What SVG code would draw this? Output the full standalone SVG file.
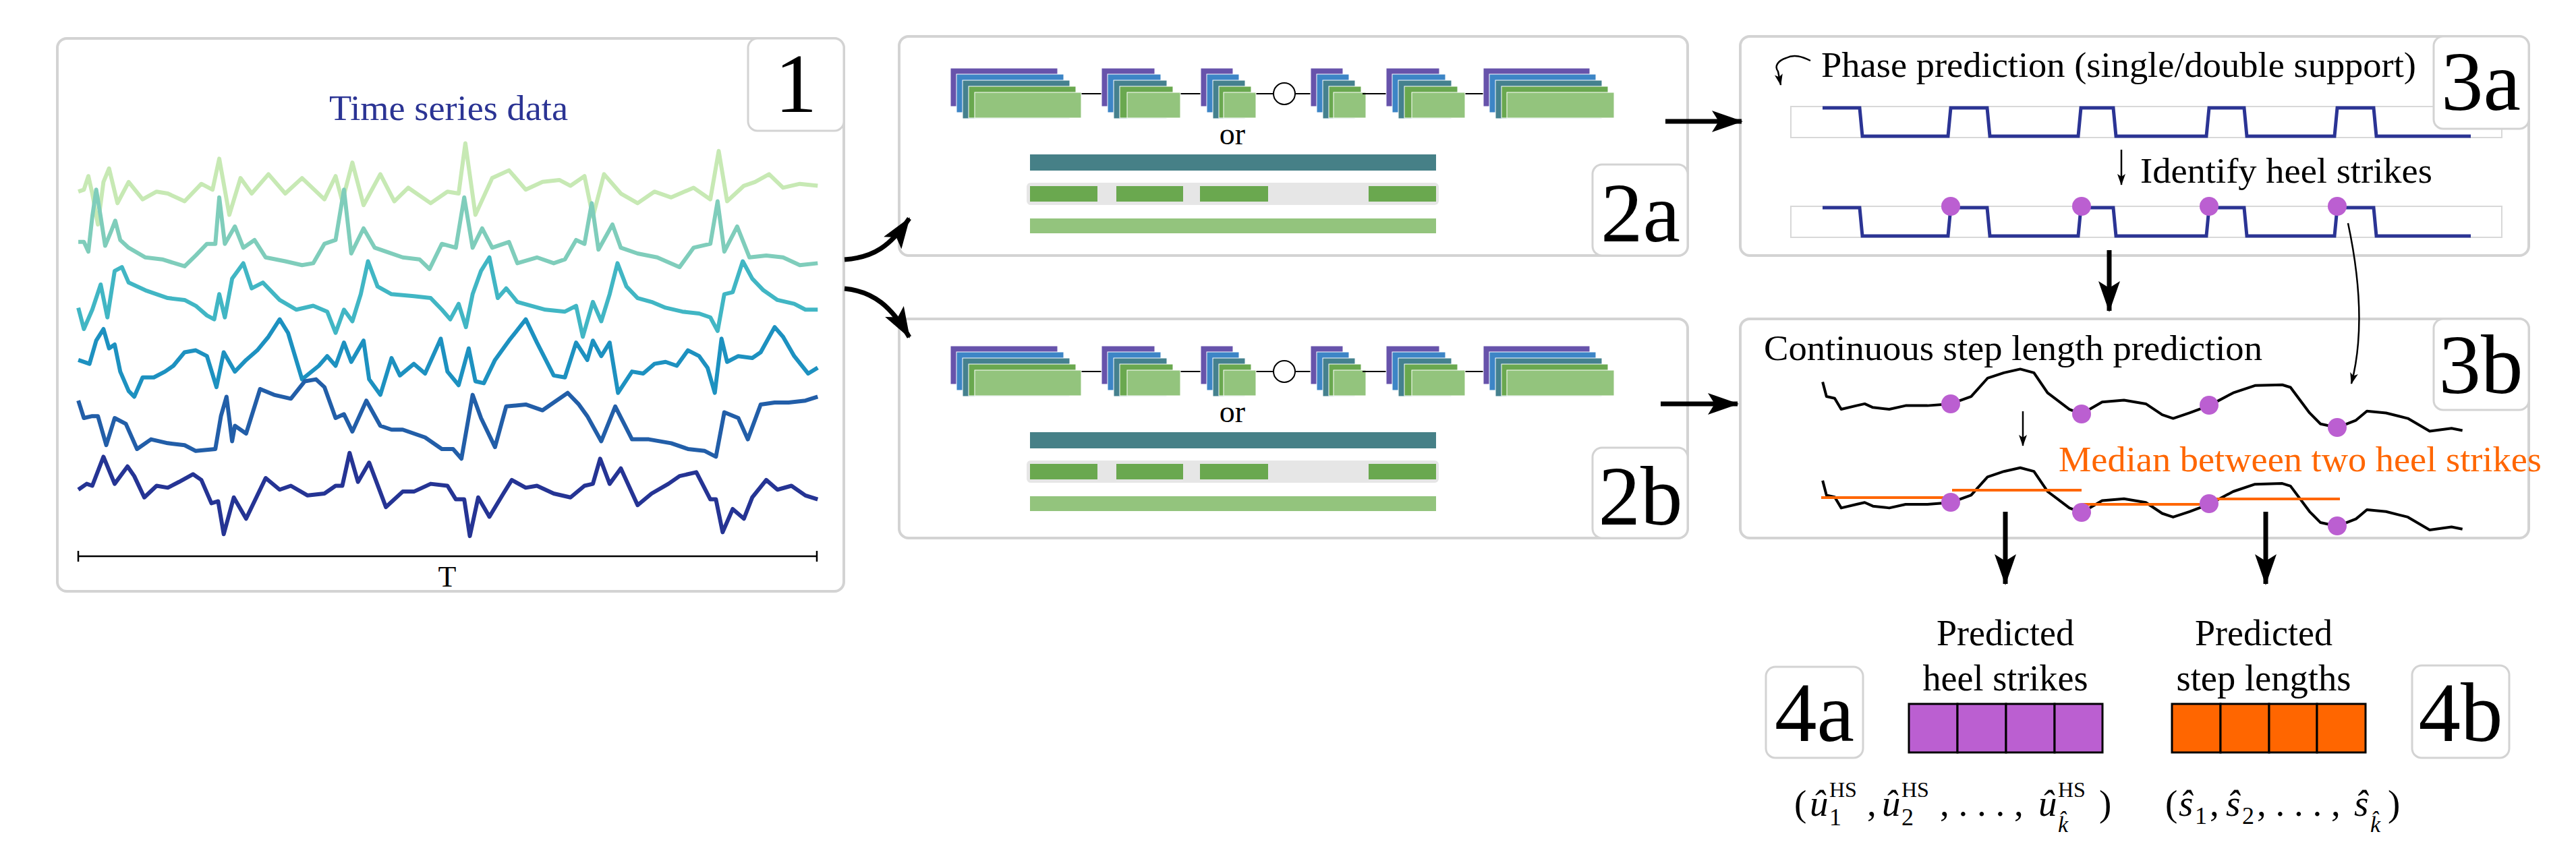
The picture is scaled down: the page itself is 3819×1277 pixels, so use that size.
<svg xmlns="http://www.w3.org/2000/svg" width="3819" height="1277" viewBox="0 0 3819 1277" font-family="'Liberation Serif', 'DejaVu Serif', serif">
<style>
.box{fill:#fff;stroke:#d3d3d3;stroke-width:4}
.lbl{fill:#fff;stroke:#d3d3d3;stroke-width:3}
.num{font-family:'Liberation Serif','DejaVu Serif',serif;font-size:125px;fill:#000;text-anchor:middle}
.t{font-family:'Liberation Serif','DejaVu Serif',serif;fill:#000}
.tr{fill:none;stroke-width:6;stroke-linejoin:round;vector-effect:non-scaling-stroke}
.sq{fill:none;stroke:#2b3494;stroke-width:5}
.sig{fill:#fff;stroke:#d8d8d8;stroke-width:2}
.dot{fill:#bb5fd1}
.blk{fill:none;stroke:#000;stroke-width:4;stroke-linejoin:round;vector-effect:non-scaling-stroke}
.med{stroke:#ff6600;stroke-width:4}
.thick{fill:none;stroke:#000;stroke-width:7}
.thin{fill:none;stroke:#000;stroke-width:2.5}
.p{stroke:#fff;stroke-width:1}
</style>
<defs>
<marker id="ah" markerUnits="userSpaceOnUse" markerWidth="60" markerHeight="40" refX="44" refY="16" orient="auto">
<path d="M0,0 L46,16 L0,32 L10,16 z" fill="#000"/>
</marker>
<marker id="ahs" markerUnits="userSpaceOnUse" markerWidth="20" markerHeight="20" refX="16" refY="6" orient="auto">
<path d="M0,0 L17,6 L0,12 L4,6 z" fill="#000"/>
</marker>
<g id="stacks">
<line x1="1600" y1="139" x2="2010" y2="139" stroke="#000" stroke-width="2"/>
<g class="p">
<rect x="1409" y="101" width="159" height="57" fill="#6753ab"/><rect x="1418" y="110" width="159" height="57" fill="#3d85c6"/><rect x="1427" y="119" width="159" height="57" fill="#45818e"/><rect x="1436" y="128" width="159" height="47" fill="#6aa84f"/><rect x="1445" y="137" width="158" height="38" fill="#93c47d"/>
<rect x="1633" y="101" width="79" height="57" fill="#6753ab"/><rect x="1642" y="110" width="79" height="57" fill="#3d85c6"/><rect x="1651" y="119" width="79" height="57" fill="#45818e"/><rect x="1660" y="128" width="79" height="47" fill="#6aa84f"/><rect x="1671" y="137" width="79" height="38" fill="#93c47d"/>
<rect x="1780" y="101" width="48" height="57" fill="#6753ab"/><rect x="1789" y="110" width="48" height="57" fill="#3d85c6"/><rect x="1798" y="119" width="48" height="57" fill="#45818e"/><rect x="1807" y="128" width="48" height="47" fill="#6aa84f"/><rect x="1814" y="137" width="48" height="38" fill="#93c47d"/>
<rect x="1943" y="101" width="48" height="57" fill="#6753ab"/><rect x="1952" y="110" width="48" height="57" fill="#3d85c6"/><rect x="1961" y="119" width="48" height="57" fill="#45818e"/><rect x="1970" y="128" width="48" height="47" fill="#6aa84f"/><rect x="1977" y="137" width="48" height="38" fill="#93c47d"/>
<line x1="2020" y1="139" x2="2200" y2="139" stroke="#000" stroke-width="2"/>
<rect x="2055" y="101" width="79" height="57" fill="#6753ab"/><rect x="2064" y="110" width="79" height="57" fill="#3d85c6"/><rect x="2073" y="119" width="79" height="57" fill="#45818e"/><rect x="2082" y="128" width="79" height="47" fill="#6aa84f"/><rect x="2093" y="137" width="79" height="38" fill="#93c47d"/>
<rect x="2199" y="101" width="158" height="57" fill="#6753ab"/><rect x="2208" y="110" width="158" height="57" fill="#3d85c6"/><rect x="2217" y="119" width="158" height="57" fill="#45818e"/><rect x="2226" y="128" width="158" height="47" fill="#6aa84f"/><rect x="2234" y="137" width="159" height="38" fill="#93c47d"/>
</g>
<circle cx="1904" cy="139" r="16" fill="#fff" stroke="#000" stroke-width="2"/>
<text x="1827" y="214" class="t" font-size="46" text-anchor="middle">or</text>
<rect x="1527" y="229" width="602" height="24" fill="#468087"/>
<rect x="1522" y="271" width="611" height="33" rx="6" fill="#e6e6e6"/>
<rect x="1527" y="276" width="100" height="23" fill="#6aa84f"/><rect x="1655" y="276" width="99" height="23" fill="#6aa84f"/><rect x="1779" y="276" width="101" height="23" fill="#6aa84f"/><rect x="2029" y="276" width="100" height="23" fill="#6aa84f"/>
<rect x="1527" y="324" width="602" height="22" fill="#93c47d"/>
</g>
</defs>

<g id="node1">
<rect class="box" x="85" y="57" width="1166" height="820" rx="14"/>
<rect class="lbl" x="1109" y="57" width="142" height="137" rx="14"/>
<text class="num" x="1180" y="166">1</text>
<text class="t" x="665" y="178" font-size="52" style="fill:#2b3494" text-anchor="middle" textLength="354" lengthAdjust="spacingAndGlyphs">Time series data</text>
<g transform="scale(0.8292,0.5741)">
<polyline class="tr" stroke="#c7e9b4" points="140,495 150,490 158,455 165,500 175,580 185,470 195,435 210,525 230,470 255,515 280,495 300,500 330,520 360,475 380,490 392,410 410,555 430,460 450,500 480,450 510,500 540,460 580,515 600,455 612,520 630,420 650,530 680,450 705,520 730,485 770,525 800,495 820,500 832,370 850,555 880,460 910,440 940,490 970,470 1000,465 1020,480 1045,455 1060,560 1080,450 1110,500 1140,525 1170,495 1200,510 1240,485 1270,515 1285,390 1300,520 1330,480 1350,470 1375,450 1400,485 1430,475 1462,480"/>
<polyline class="tr" stroke="#7fcdbb" points="140,625 150,625 158,650 165,560 172,490 180,560 188,635 198,600 206,570 215,620 230,640 260,665 290,670 330,688 350,660 370,630 385,630 392,510 402,630 420,585 435,640 455,620 475,665 510,675 540,685 560,680 580,630 600,620 615,490 628,655 650,590 670,640 690,650 720,665 750,670 768,695 790,630 815,640 830,510 845,640 862,590 880,640 910,625 925,680 960,665 990,680 1010,670 1030,620 1045,630 1058,525 1070,645 1095,580 1110,640 1140,655 1175,665 1215,690 1240,640 1270,630 1283,520 1295,650 1318,585 1340,665 1370,660 1400,665 1430,685 1462,680"/>
<polyline class="tr" stroke="#41b6c4" points="140,795 150,850 165,800 180,735 192,820 205,700 218,690 230,730 260,750 300,770 330,775 350,790 370,815 383,825 392,760 402,820 415,720 435,680 450,745 470,730 500,775 530,800 560,790 585,805 600,860 615,800 630,830 645,760 658,675 675,740 700,760 740,765 770,770 790,800 805,825 820,785 833,845 845,760 860,700 875,665 890,770 905,745 925,780 950,790 975,800 1010,805 1030,790 1042,870 1060,780 1075,830 1090,760 1104,680 1120,740 1140,770 1165,780 1190,795 1220,805 1250,810 1270,820 1283,855 1295,760 1310,755 1328,675 1345,720 1365,750 1390,775 1420,785 1440,800 1462,800"/>
<polyline class="tr" stroke="#1d91c0" points="140,930 160,940 172,880 185,850 195,900 205,890 215,960 230,1010 240,1025 255,975 275,975 295,960 310,945 330,910 350,905 370,920 387,1000 400,910 420,960 440,930 460,905 480,870 500,825 515,860 540,980 570,945 585,920 600,945 615,885 628,935 650,880 660,980 680,1020 700,925 715,970 740,940 760,965 788,875 800,960 820,995 838,900 850,985 865,990 885,930 910,880 940,825 960,885 990,970 1010,975 1030,885 1050,930 1060,880 1075,920 1090,885 1105,1015 1130,960 1150,965 1170,940 1190,935 1210,945 1230,905 1250,920 1265,950 1278,1015 1290,875 1300,935 1320,920 1345,925 1360,910 1385,845 1400,870 1420,920 1445,965 1462,950"/>
<polyline class="tr" stroke="#225ea8" points="140,1035 150,1080 165,1075 175,1075 190,1150 205,1080 225,1095 245,1160 270,1135 300,1145 330,1150 350,1165 385,1160 395,1075 405,1025 415,1140 420,1100 440,1120 465,1005 490,1020 520,1030 545,985 565,980 580,1000 600,1080 615,1070 630,1115 655,1035 680,1100 700,1110 720,1110 760,1130 790,1160 810,1160 825,1185 845,1020 860,1080 885,1155 905,1050 940,1045 970,1060 990,1040 1015,1015 1035,1045 1050,1075 1075,1140 1100,1050 1130,1135 1160,1135 1200,1145 1230,1160 1260,1165 1280,1180 1295,1065 1320,1080 1337,1135 1360,1045 1385,1040 1410,1040 1440,1035 1462,1025"/>
<polyline class="tr" stroke="#253494" points="140,1265 155,1250 165,1255 185,1180 205,1250 228,1205 240,1230 258,1285 280,1255 300,1260 320,1245 345,1225 360,1240 378,1300 390,1295 400,1380 418,1285 440,1340 475,1235 500,1265 520,1255 550,1280 580,1275 600,1255 612,1255 625,1170 640,1245 660,1195 690,1310 720,1270 740,1270 770,1250 800,1255 815,1290 830,1290 840,1385 855,1285 875,1335 900,1275 915,1240 940,1260 960,1255 990,1275 1020,1285 1045,1255 1060,1250 1073,1185 1090,1250 1110,1210 1140,1305 1165,1275 1195,1250 1215,1230 1245,1220 1270,1290 1280,1290 1292,1375 1310,1315 1330,1340 1345,1285 1370,1240 1390,1265 1415,1255 1440,1280 1462,1290"/>
</g>
<line x1="116" y1="825" x2="1211" y2="825" stroke="#000" stroke-width="2.5"/>
<line x1="116" y1="817" x2="116" y2="833" stroke="#000" stroke-width="2.5"/>
<line x1="1211" y1="817" x2="1211" y2="833" stroke="#000" stroke-width="2.5"/>
<text class="t" x="663" y="870" font-size="44" text-anchor="middle">T</text>
</g>

<g id="node2a">
<rect class="box" x="1333" y="54" width="1169" height="325" rx="14"/>
<use href="#stacks"/>
<rect class="lbl" x="2361" y="244" width="141" height="135" rx="14"/>
<text class="num" x="2432" y="358">2a</text>
</g>

<g id="node2b">
<rect class="box" x="1333" y="473" width="1169" height="325" rx="14"/>
<use href="#stacks" transform="translate(0,412)"/>
<rect class="lbl" x="2361" y="664" width="141" height="134" rx="14"/>
<text class="num" x="2432" y="778">2b</text>
</g>

<g id="node3a">
<rect class="box" x="2580" y="54" width="1169" height="325" rx="14"/>
<text class="t" x="2700" y="114" font-size="52" textLength="882" lengthAdjust="spacingAndGlyphs">Phase prediction (single/double support)</text>
<path class="thin" d="M2684,90 C2672,84 2660,80 2648,86 C2636,90 2630,98 2636,106 L2640,126" marker-end="url(#ahs)"/>
<rect class="sig" x="2655" y="158" width="1054" height="46"/>
<path class="sq" d="M2702,160 H2757 L2761,202 H2888 L2892,160 H2946 L2950,202 H3081 L3085,160 H3133 L3137,202 H3271 L3275,160 H3327 L3331,202 H3461 L3465,160 H3519 L3523,202 H3663"/>
<rect class="lbl" x="3608" y="54" width="141" height="137" rx="14"/>
<text class="num" x="3678" y="163">3a</text>
<text class="t" x="3173" y="271" font-size="52" textLength="433" lengthAdjust="spacingAndGlyphs">Identify heel strikes</text>
<rect class="sig" x="2655" y="306" width="1054" height="46"/>
<path class="sq" d="M2702,308 H2757 L2761,350 H2888 L2892,308 H2946 L2950,350 H3081 L3085,308 H3133 L3137,350 H3271 L3275,308 H3327 L3331,350 H3461 L3465,308 H3519 L3523,350 H3663"/>
<circle class="dot" cx="2892" cy="306" r="14"/><circle class="dot" cx="3086" cy="306" r="14"/><circle class="dot" cx="3275" cy="306" r="14"/><circle class="dot" cx="3465" cy="306" r="14"/>
</g>

<g id="node3b">
<rect class="box" x="2580" y="473" width="1169" height="325" rx="14"/>
<rect class="lbl" x="3608" y="473" width="141" height="135" rx="14"/>
<text class="num" x="3678" y="583">3b</text>
<text class="t" x="2615" y="534" font-size="52" textLength="739" lengthAdjust="spacingAndGlyphs">Continuous step length prediction</text>
<g transform="translate(2550,0) scale(0.8093,0.542)">
<polyline class="blk" points="188,1045 195,1085 210,1090 222,1120 250,1110 265,1105 280,1115 310,1120 340,1110 380,1110 423,1105 460,1085 490,1035 520,1020 550,1010 575,1020 600,1075 640,1120 662,1133 700,1100 740,1095 780,1105 810,1135 830,1145 860,1130 896,1110 940,1075 980,1055 1030,1053 1045,1060 1080,1130 1100,1160 1131,1170 1165,1150 1185,1125 1220,1130 1260,1145 1300,1180 1340,1172 1360,1178"/>
<polyline class="blk" points="188,1315 195,1355 210,1360 222,1390 250,1380 265,1375 280,1385 310,1390 340,1380 380,1380 423,1375 460,1355 490,1305 520,1290 550,1280 575,1290 600,1345 640,1390 662,1403 700,1370 740,1365 780,1375 810,1405 830,1415 860,1400 896,1380 940,1345 980,1325 1030,1323 1045,1330 1080,1400 1100,1430 1131,1440 1165,1420 1185,1395 1220,1400 1260,1415 1300,1450 1340,1442 1360,1448"/>
</g>
<line class="med" x1="2700" y1="738" x2="2892" y2="738"/>
<line class="med" x1="2894" y1="727" x2="3086" y2="727"/>
<line class="med" x1="3086" y1="748" x2="3275" y2="748"/>
<line class="med" x1="3275" y1="740" x2="3469" y2="740"/>
<circle class="dot" cx="2892" cy="599" r="14"/><circle class="dot" cx="3086" cy="614" r="14"/><circle class="dot" cx="3275" cy="601" r="14"/><circle class="dot" cx="3465" cy="634" r="14"/>
<circle class="dot" cx="2892" cy="745" r="14"/><circle class="dot" cx="3086" cy="760" r="14"/><circle class="dot" cx="3275" cy="747" r="14"/><circle class="dot" cx="3465" cy="780" r="14"/>
<text class="t" x="3052" y="699" font-size="52" style="fill:#ff6600" textLength="716" lengthAdjust="spacingAndGlyphs">Median between two heel strikes</text>
</g>

<g id="node4a">
<rect class="lbl" x="2618" y="989" width="144" height="135" rx="14"/>
<text class="num" x="2690" y="1099">4a</text>
<text class="t" x="2973" y="957" font-size="55" text-anchor="middle" textLength="204" lengthAdjust="spacingAndGlyphs">Predicted</text>
<text class="t" x="2973" y="1024" font-size="55" text-anchor="middle" textLength="245" lengthAdjust="spacingAndGlyphs">heel strikes</text>
<g fill="#bb5fd1" stroke="#000" stroke-width="3">
<rect x="2830" y="1044" width="72" height="72"/><rect x="2902" y="1044" width="72" height="72"/><rect x="2974" y="1044" width="72" height="72"/><rect x="3046" y="1044" width="71" height="72"/>
</g>
<text class="t" font-size="55"><tspan x="2660" y="1210">(</tspan><tspan x="2683" y="1210" font-style="italic">û</tspan><tspan x="2712" y="1224" font-size="36">1</tspan><tspan x="2712" y="1182" font-size="32">HS</tspan><tspan x="2768" y="1210">,</tspan><tspan x="2790" y="1210" font-style="italic">û</tspan><tspan x="2819" y="1224" font-size="36">2</tspan><tspan x="2819" y="1182" font-size="32">HS</tspan><tspan x="2876" y="1210">, . . . ,</tspan><tspan x="3022" y="1210" font-style="italic">û</tspan><tspan x="3051" y="1234" font-size="34" font-style="italic">k̂</tspan><tspan x="3051" y="1182" font-size="32">HS</tspan><tspan x="3112" y="1210">)</tspan></text>
</g>

<g id="node4b">
<rect class="lbl" x="3576" y="987" width="144" height="137" rx="14"/>
<text class="num" x="3648" y="1099">4b</text>
<text class="t" x="3356" y="957" font-size="55" text-anchor="middle" textLength="204" lengthAdjust="spacingAndGlyphs">Predicted</text>
<text class="t" x="3356" y="1024" font-size="55" text-anchor="middle" textLength="259" lengthAdjust="spacingAndGlyphs">step lengths</text>
<g fill="#ff6600" stroke="#000" stroke-width="3">
<rect x="3220" y="1044" width="72" height="72"/><rect x="3292" y="1044" width="72" height="72"/><rect x="3364" y="1044" width="71" height="72"/><rect x="3435" y="1044" width="72" height="72"/>
</g>
<text class="t" font-size="55"><tspan x="3210" y="1210">(</tspan><tspan x="3230" y="1210" font-style="italic">ŝ</tspan><tspan x="3254" y="1222" font-size="36">1</tspan><tspan x="3276" y="1210">,</tspan><tspan x="3300" y="1210" font-style="italic">ŝ</tspan><tspan x="3324" y="1222" font-size="36">2</tspan><tspan x="3346" y="1210">, . . . ,</tspan><tspan x="3490" y="1210" font-style="italic">ŝ</tspan><tspan x="3514" y="1234" font-size="34" font-style="italic">k̂</tspan><tspan x="3540" y="1210">)</tspan></text>
</g>

<g id="connectors">
<path class="thick" d="M1252,385 C1295,382 1320,365 1348,324" marker-end="url(#ah)"/>
<path class="thick" d="M1252,428 C1295,432 1322,455 1348,500" marker-end="url(#ah)"/>
<line class="thick" x1="2469" y1="180" x2="2582" y2="180" marker-end="url(#ah)"/>
<line class="thick" x1="2462" y1="599" x2="2576" y2="599" marker-end="url(#ah)"/>
<line class="thick" x1="3127" y1="371" x2="3127" y2="461" marker-end="url(#ah)"/>
<line class="thick" x1="2973" y1="759" x2="2973" y2="866" marker-end="url(#ah)"/>
<line class="thick" x1="3359" y1="759" x2="3359" y2="866" marker-end="url(#ah)"/>
<line class="thin" x1="3145" y1="222" x2="3145" y2="274" marker-end="url(#ahs)"/>
<line class="thin" x1="2999" y1="610" x2="2999" y2="661" marker-end="url(#ahs)"/>
<path class="thin" d="M3481,331 C3500,420 3504,500 3486,569" marker-end="url(#ahs)"/>
</g>
</svg>
